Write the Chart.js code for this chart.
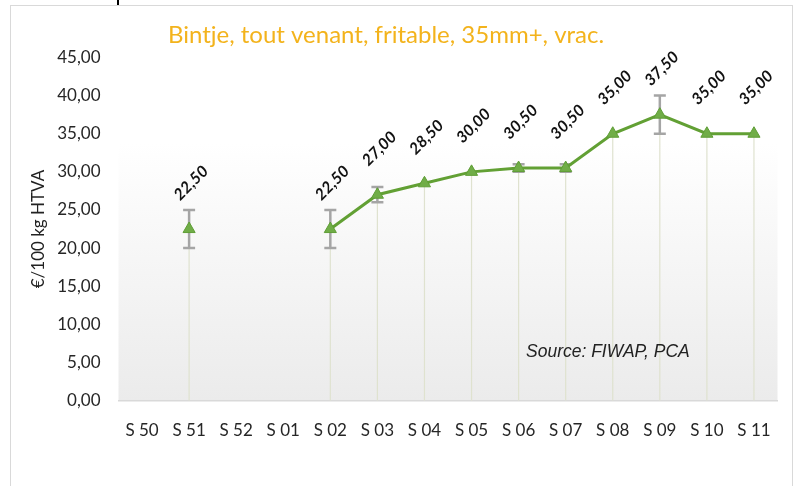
<!DOCTYPE html>
<html>
<head>
<meta charset="utf-8">
<script src="https://cdn.jsdelivr.net/npm/chart.js@4"></script>
<style>
  body { margin: 0; background: #fff; overflow: hidden; }
  #frame { position: absolute; left: 10px; top: 5px; width: 781px; height: 490px; border: 1px solid #d9d9d9; }
  #mark { position: absolute; left: 117px; top: 0; width: 2px; height: 5px; background: #000; }
  #wrap { position: absolute; left: 0; top: 0; width: 796px; height: 486px; }
</style>
</head>
<body>
<div id="frame"></div>
<div id="mark"></div>
<div id="wrap"><canvas id="potatoChart"></canvas></div>
<script>
/* ══════════════════════════════
   DATA
══════════════════════════════ */
const weeks   = ['S 50', 'S 51', 'S 52', 'S 01', 'S 02', 'S 03', 'S 04', 'S 05', 'S 06', 'S 07', 'S 08', 'S 09', 'S 10', 'S 11'];
const prices  = [null, 22.5, null, null, 22.5, 27, 28.5, 30, 30.5, 30.5, 35, 37.5, 35, 35];
const errLow  = [null, 20, null, null, 20, 26, null, null, 30, 30, null, 35, null, null];
const errHigh = [null, 25, null, null, 25, 28, null, null, 31, 31, null, 40, null, null];
const yMin = 0, yMax = 45, yStep = 5;

const chartTitle = 'Bintje, tout venant, fritable, 35mm+, vrac.';
const sourceNote = 'Source: FIWAP, PCA';

const fmt = v => v.toFixed(2).replace('.', ',');

/* ══════════════════════════════
   PLUGINS
══════════════════════════════ */
// gradient plot background + title
const plotBg = {
  id: 'plotBg',
  beforeDraw(chart) {
    const { ctx, chartArea: a } = chart;
    const g = ctx.createLinearGradient(0, a.top, 0, a.bottom);
    g.addColorStop(0, '#ffffff');
    g.addColorStop(0.25, '#ffffff');
    g.addColorStop(1, '#ebebeb');
    ctx.save();
    ctx.fillStyle = g;
    ctx.fillRect(a.left, a.top, a.right - a.left, a.bottom - a.top);
    ctx.font = '24px Lato';
    ctx.fillStyle = '#f3b31c';
    ctx.textAlign = 'center';
    ctx.textBaseline = 'middle';
    ctx.fillText(chartTitle, 386, 35);
    ctx.restore();
  }
};

// drop lines + error bars
const dropsAndErrors = {
  id: 'dropsAndErrors',
  beforeDatasetsDraw(chart) {
    const { ctx } = chart;
    const y = chart.scales.y;
    const pts = chart.getDatasetMeta(0).data;
    ctx.save();
    ctx.strokeStyle = '#dfe2cf';
    ctx.lineWidth = 1.2;
    pts.forEach((pt, i) => {
      if (prices[i] == null) return;
      ctx.beginPath();
      ctx.moveTo(pt.x, pt.y);
      ctx.lineTo(pt.x, y.getPixelForValue(0));
      ctx.stroke();
    });
    ctx.strokeStyle = '#a5a5a5';
    ctx.lineWidth = 2.5;
    pts.forEach((pt, i) => {
      if (errLow[i] == null) return;
      const top = y.getPixelForValue(errHigh[i]);
      const bot = y.getPixelForValue(errLow[i]);
      ctx.beginPath();
      ctx.moveTo(pt.x, top); ctx.lineTo(pt.x, bot);
      ctx.moveTo(pt.x - 6, top); ctx.lineTo(pt.x + 6, top);
      ctx.moveTo(pt.x - 6, bot); ctx.lineTo(pt.x + 6, bot);
      ctx.stroke();
    });
    ctx.restore();
  }
};

// rotated value labels + source note
const valueLabels = {
  id: 'valueLabels',
  afterDatasetsDraw(chart) {
    const { ctx } = chart;
    const pts = chart.getDatasetMeta(0).data;
    ctx.save();
    ctx.fillStyle = '#111';
    ctx.font = 'italic bold 16px Lato';
    ctx.textAlign = 'center';
    ctx.textBaseline = 'middle';
    pts.forEach((pt, i) => {
      if (prices[i] == null) return;
      ctx.save();
      ctx.translate(pt.x + 2, pt.y - 46);
      ctx.rotate(-Math.PI / 4);
      ctx.fillText(fmt(prices[i]), 0, 0);
      ctx.restore();
    });
    ctx.font = 'italic 17.5px "Liberation Sans"';
    ctx.fillStyle = '#222';
    ctx.textAlign = 'left';
    ctx.textBaseline = 'alphabetic';
    ctx.fillText(sourceNote, 526, 357);
    ctx.restore();
  }
};

/* ══════════════════════════════
   CHART
══════════════════════════════ */
const ctx = document.getElementById('potatoChart').getContext('2d');

new Chart(ctx, {
  type: 'line',
  data: {
    labels: weeks,
    datasets: [{
      data: prices,
      borderColor: '#62a034',
      borderWidth: 3,
      pointStyle: 'triangle',
      pointRadius: 7,
      pointBackgroundColor: '#70ad47',
      pointBorderColor: '#5f9e36',
      pointBorderWidth: 1,
      spanGaps: false,
      tension: 0
    }]
  },
  options: {
    responsive: true,
    maintainAspectRatio: false,
    animation: false,
    layout: { padding: { top: 57.5, left: 28, right: 18.5, bottom: 33 } },
    plugins: {
      legend: { display: false },
      tooltip: { enabled: false },
      title: { display: false }
    },
    scales: {
      x: {
        offset: true,
        grid: { display: false },
        border: { color: '#d9d9d9', width: 1.5 },
        ticks: { font: { family: 'Lato', size: 17 }, color: '#262626', padding: 12, maxRotation: 0 }
      },
      y: {
        min: yMin,
        max: yMax,
        grid: { display: false, drawTicks: false },
        border: { display: false },
        ticks: {
          stepSize: yStep,
          padding: 18,
          font: { family: 'Lato', size: 17 },
          color: '#262626',
          callback: v => fmt(v)
        },
        title: {
          display: true,
          text: '€/100 kg HTVA',
          color: '#222',
          font: { family: 'Lato', size: 17 },
          padding: 0
        },
        afterFit(scale) { scale.width = 90.5; }
      }
    }
  },
  plugins: [plotBg, dropsAndErrors, valueLabels]
});
</script>
</body>
</html>
